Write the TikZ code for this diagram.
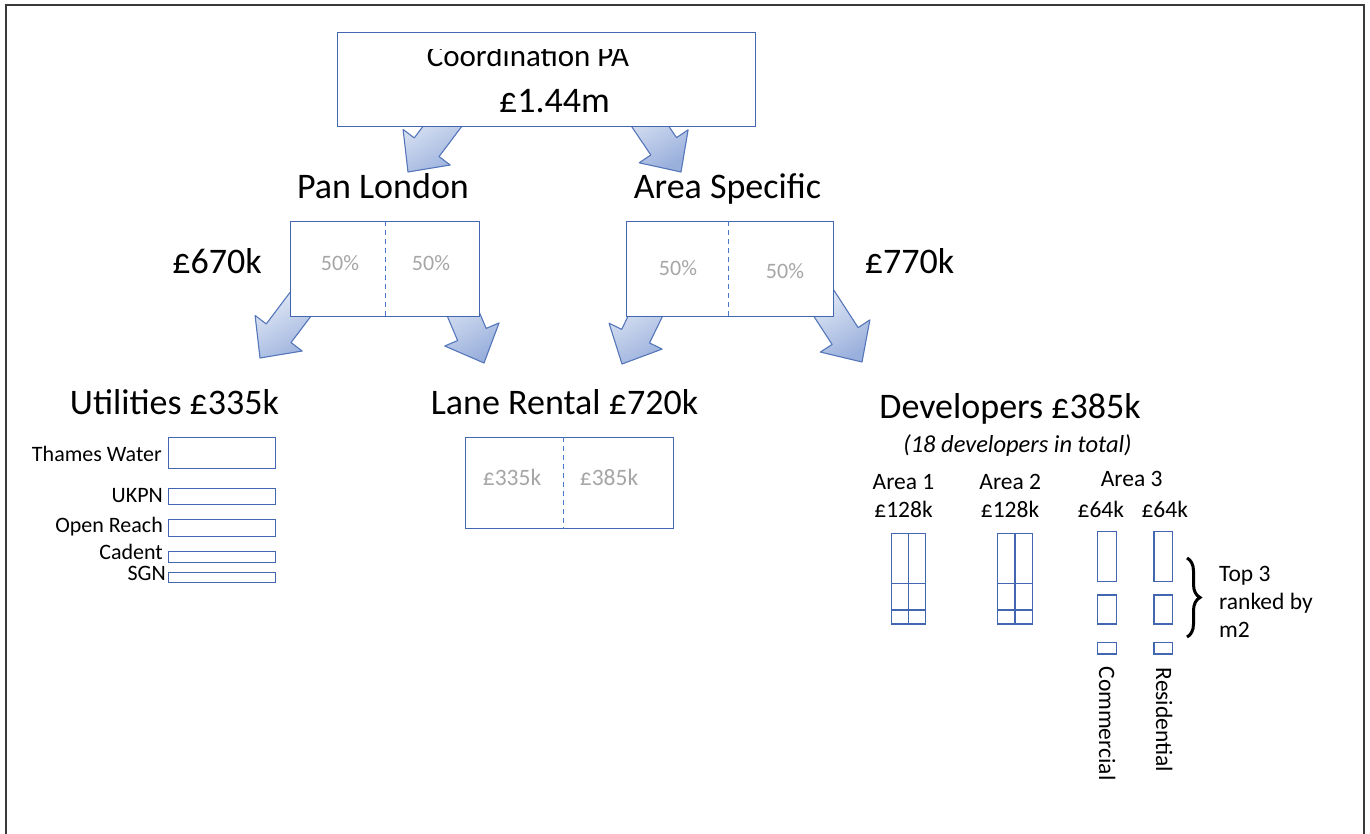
\documentclass[tikz,border=0pt]{standalone}
\usepackage{fontspec}
\setmainfont{Carlito}
\usetikzlibrary{calc,decorations.pathreplacing}

\definecolor{boxline}{HTML}{4267B0}
\definecolor{divline}{HTML}{4A76C8}
\definecolor{arrowline}{HTML}{5576BA}
\definecolor{arrowlight}{HTML}{EEF2FA}
\definecolor{arrowdark}{HTML}{9AB0DC}
\definecolor{sharegray}{HTML}{A6A6A6}
\definecolor{framecol}{HTML}{3A3A3A}

\tikzset{
  boxed/.style={draw=boxline, line width=1.3pt, fill=white, inner sep=0pt, anchor=north west},
  divider/.style={draw=divline, line width=1pt, dash pattern=on 5pt off 4pt},
  blockarrow/.style={draw=arrowline, line width=1.1pt, line join=round,
    top color=arrowlight, bottom color=arrowdark, shading angle=30},
  heading/.style={font=\fontsize{36}{40}\selectfont, inner sep=0pt, anchor=base},
  small/.style={font=\fontsize{23.5}{28}\selectfont, inner sep=0pt, anchor=base},
  share/.style={font=\fontsize{22}{26}\selectfont, text=sharegray, inner sep=0pt, anchor=base},
  utilname/.style={font=\fontsize{22}{26}\selectfont, inner sep=0pt, anchor=base east},
}

% block arrow: #1 tip coordinate, #2 heading in degrees (clockwise from right)
\newcommand\blockarr[2]{%
  \path[blockarrow]
    (#1)
    -- ($(#1)+({#2+180}:31)+({#2+90}:29.5)$)
    -- ($(#1)+({#2+180}:31)+({#2+90}:15.5)$)
    -- ($(#1)+({#2+180}:91)+({#2+90}:15.5)$)
    -- ($(#1)+({#2+180}:91)+({#2-90}:15.5)$)
    -- ($(#1)+({#2+180}:31)+({#2-90}:15.5)$)
    -- ($(#1)+({#2+180}:31)+({#2-90}:29.5)$)
    -- cycle;}

\begin{document}
\begin{tikzpicture}[x=1pt, y=-1pt]
\useasboundingbox (0,0) rectangle (1370,833);

% outer frame (open at the bottom)
\draw[framecol, line width=2pt] (5.5,834) -- (5.5,5) -- (1364,5) -- (1364,834);

% arrow tips
\coordinate (tipA) at (408,172);
\coordinate (tipB) at (681,172);
\coordinate (tipC) at (260,358);
\coordinate (tipD) at (484,363);
\coordinate (tipE) at (622,364);
\coordinate (tipF) at (862,362);

% block arrows, drawn below the boxes
\blockarr{tipA}{127}
\blockarr{tipB}{56}
\blockarr{tipC}{127}
\blockarr{tipD}{67}
\blockarr{tipE}{116}
\blockarr{tipF}{57}

% top box
\node[boxed, minimum width=418pt, minimum height=94pt] (top) at (337,32) {};
\begin{scope}
  \clip (338,49.5) rectangle (754,125);
  \node[font=\fontsize{31}{36}\selectfont, inner sep=0pt, anchor=base] (toptitle) at (528,66) {Coordination PA};
\end{scope}
\node[heading] (toptotal) at (554.5,112) {£1.44m};

% second level
\node[heading] (panlabel) at (383,198) {Pan London};
\node[heading] (arealabel) at (727.5,198) {Area Specific};

\node[boxed, minimum width=189pt, minimum height=95pt] (pan) at (290,221) {};
\draw[divider] (pan.north) -- (pan.south);
\node[share] (panl) at (340,270) {50\%};
\node[share] (panr) at (431,270) {50\%};
\node[heading] (panamt) at (217,273) {£670k};

\node[boxed, minimum width=207pt, minimum height=95pt] (area) at (626,221) {};
\draw[divider] ($(area.north)+(-1.5,0)$) -- ($(area.south)+(-1.5,0)$);
\node[share] (areal) at (678,275) {50\%};
\node[share] (arear) at (785,278) {50\%};
\node[heading] (areaamt) at (909.5,273) {£770k};

% third level headings
\node[heading] (utilhead) at (174.5,414) {Utilities £335k};
\node[heading] (lanehead) at (564.5,414) {Lane Rental £720k};
\node[heading] (devhead) at (1010,418) {Developers £385k};
\node[font=\fontsize{24.5}{29}\selectfont\itshape, inner sep=0pt, anchor=base] (devnote) at (1017.5,452) {(18 developers in total)};

% utilities
\node[boxed, minimum width=107pt, minimum height=30.5pt] (thames) at (167.5,437) {};
\node[boxed, minimum width=107pt, minimum height=16pt] (ukpn) at (167.5,488) {};
\node[boxed, minimum width=107pt, minimum height=17pt] (openreach) at (167.5,519) {};
\node[boxed, minimum width=107pt, minimum height=11pt] (cadent) at (167.5,551) {};
\node[boxed, minimum width=107pt, minimum height=10pt] (sgn) at (167.5,572) {};
\node[utilname] (thamesl) at (162,461) {Thames Water};
\node[utilname] (ukpnl) at (163,502) {UKPN};
\node[utilname] (openreachl) at (163,532) {Open Reach};
\node[utilname] (cadentl) at (163,559) {Cadent};
\node[utilname] (sgnl) at (166,580) {SGN};

% lane rental
\node[boxed, minimum width=208pt, minimum height=91pt] (lane) at (465,437) {};
\draw[divider] ($(lane.north)+(-6,0)$) -- ($(lane.south)+(-6,0)$);
\node[small, text=sharegray] (lanel) at (512,485) {£335k};
\node[small, text=sharegray] (laner) at (609,485) {£385k};

% developers
\node[small] (a1) at (903.5,489.3) {Area 1};
\node[small] (a1v) at (903.5,517.3) {£128k};
\node[small] (a2) at (1010.3,489.3) {Area 2};
\node[small] (a2v) at (1010,517.3) {£128k};
\node[small] (a3) at (1131.7,486.7) {Area 3};
\node[small] (a3c) at (1100.8,517.3) {£64k};
\node[small] (a3r) at (1164.7,517.3) {£64k};

\node[boxed, minimum width=34.3pt, minimum height=90.6pt] (g1) at (890.7,532.7) {};
\draw[draw=boxline, line width=1.3pt] (g1.north) -- (g1.south)
  ($(g1.north west)+(0,50.6)$) -- ($(g1.north east)+(0,50.6)$)
  ($(g1.north west)+(0,77.3)$) -- ($(g1.north east)+(0,77.3)$);
\node[boxed, minimum width=35pt, minimum height=90.6pt] (g2) at (996.7,532.7) {};
\draw[draw=boxline, line width=1.3pt] (g2.north) -- (g2.south)
  ($(g2.north west)+(0,50.6)$) -- ($(g2.north east)+(0,50.6)$)
  ($(g2.north west)+(0,77.3)$) -- ($(g2.north east)+(0,77.3)$);

\node[boxed, minimum width=19.3pt, minimum height=49.7pt] (c1) at (1096.7,531) {};
\node[boxed, minimum width=19.3pt, minimum height=29pt] (c2) at (1096.7,594.3) {};
\node[boxed, minimum width=19.3pt, minimum height=11.6pt] (c3) at (1096.7,641.7) {};
\node[boxed, minimum width=18.4pt, minimum height=49.7pt] (r1) at (1153.3,531) {};
\node[boxed, minimum width=18.4pt, minimum height=29pt] (r2) at (1153.3,594.3) {};
\node[boxed, minimum width=18.4pt, minimum height=11.6pt] (r3) at (1153.3,641.7) {};

\node[small, rotate=-90] (comm) at (1099,723.5) {Commercial};
\node[small, rotate=-90] (resi) at (1156,720) {Residential};

% brace and ranking note
\coordinate (bracetop) at (1187,558);
\coordinate (bracebot) at (1187,637);
\draw[line width=3pt, decorate, decoration={brace, amplitude=13pt}] (bracetop) -- (bracebot);
\node[small, anchor=base west] (rank1) at (1219,581) {Top 3};
\node[small, anchor=base west] (rank2) at (1219,609) {ranked by};
\node[small, anchor=base west] (rank3) at (1219,637) {m2};
\end{tikzpicture}
\end{document}
